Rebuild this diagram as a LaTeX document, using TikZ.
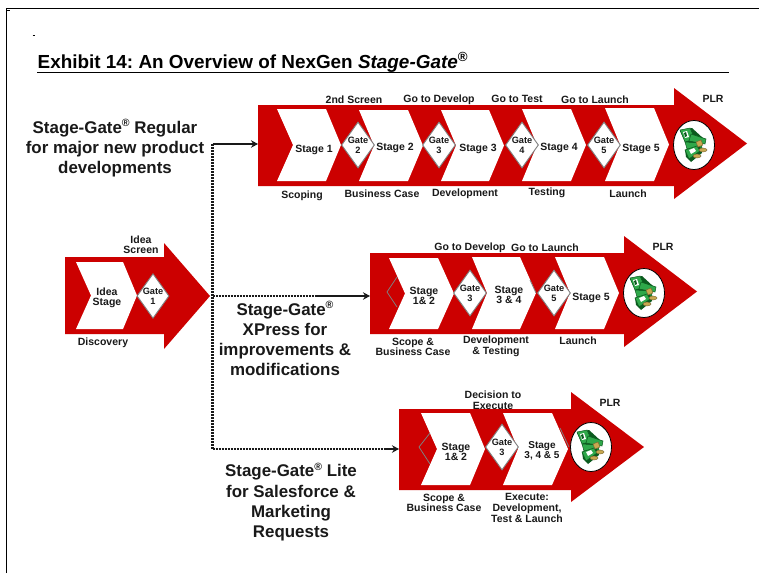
\documentclass[tikz,border=0pt]{standalone}
\usepackage{fontspec}
\setmainfont{Liberation Sans}
\usetikzlibrary{arrows.meta,shapes.geometric}
\definecolor{sgred}{HTML}{CC0000}
\definecolor{sggray}{HTML}{7F7F7F}
\definecolor{billg}{HTML}{2FA84A}
\definecolor{billd}{HTML}{0B5A1E}
\definecolor{coin}{HTML}{C8A850}
\newcommand{\bigarr}[7]{\fill[sgred] (#1,#4) -- (#2,#4) -- (#2,#6) -- (#3,{(#6+#7)/2}) -- (#2,#7) -- (#2,#5) -- (#1,#5) -- cycle;}
\newcommand{\chev}[6]{\fill[white] (#1,#5) -- (#3,#5) -- (#4,{(#5+#6)/2}) -- (#3,#6) -- (#1,#6) -- (#2,{(#5+#6)/2}) -- cycle;}
\newcommand{\moneybag}[3]{%
 \node[plrcircle] (#1) at (#2,#3) {};
 \begin{scope}[shift={(#2,#3)}]
  \fill[billd] (-14,-14) -- (-2,-17) -- (10,-6) -- (6,3) -- (-6,2) -- cycle;
  \fill[billg,draw=billd,line width=.5pt] (-14,-15) -- (-4,-17) -- (1,-6) -- (-9,-3) -- cycle;
  \fill[white] (-11,-13) -- (-7,-14) -- (-5,-8) -- (-9,-7) -- cycle;
  \fill[billd] (-10,-12) -- (-8,-13) -- (-7,-9) -- (-9,-8) -- cycle;
  \fill[billg,draw=billd,line width=.5pt] (-3,-11) -- (12,-6) -- (11,-1) -- (-5,-4) -- cycle;
  \fill[billg,draw=billd,line width=.5pt] (-9,-3) -- (7,-2) -- (8,3) -- (-7,4) -- cycle;
  \fill[billd] (-9,5) -- (6,1) -- (8,8) -- (-3,17) -- (-8,12) -- cycle;
  \fill[billg,draw=billd,line width=.5pt] (-9,5) -- (3,1) -- (6,6) -- (-5,14) -- cycle;
  \fill[white] (-5,5) -- (0,3) -- (2,6) -- (-3,9) -- cycle;
  \fill[coin,draw=coin!60!black,line width=.4pt] (2,-3) -- (7,-5) -- (9,0) -- (4,2) -- cycle;
  \fill[coin,draw=coin!60!black,line width=.4pt] (9,5) ellipse (4 and 2);
  \fill[coin,draw=coin!60!black,line width=.4pt] (3,11) ellipse (4 and 2);
 \end{scope}}
\newcommand{\regmark}{\smash{\raisebox{.36em}{\fontsize{10.5}{10.5}\selectfont\bfseries ®}}}
\tikzset{
 lbl/.style={font=\fontsize{10.5}{10.8}\selectfont\bfseries,align=center,inner sep=0pt,text=black!90,yshift=-.8pt},
 gatelbl/.style={font=\fontsize{9.2}{9.8}\selectfont\bfseries,align=center,inner sep=0pt,text=black!90},
 head/.style={font=\fontsize{16.9}{20.3}\selectfont\bfseries,align=center,inner sep=0pt,text=black!90},
 gatebox/.style={diamond,draw=sggray,line width=.9pt,fill=white,inner sep=0pt,minimum width=33pt,minimum height=46pt,aspect=0.72},
 plrcircle/.style={ellipse,draw=black,line width=.8pt,fill=white,minimum width=41pt,minimum height=49pt,inner sep=0pt},
 ghost/.style={draw=sggray,line width=.8pt},
 dotline/.style={line width=2.1pt,dash pattern=on 2pt off 1pt,black!90},
 solidline/.style={line width=2.4pt,black!90,-{Stealth[length=7pt,width=7.5pt]}},
}
\begin{document}
\frenchspacing
\begin{tikzpicture}[x=1pt,y=-1pt]
\useasboundingbox (0,0) rectangle (759,573);
\fill[white] (0,0) rectangle (759,573);
% frame
\draw[line width=1pt,black] (6.5,573) -- (6.5,8.5) -- (759,8.5);
\draw[line width=.8pt] (7,10.5) -- (9.5,10.5);
\draw[line width=.8pt] (32.5,35) -- (35,35);
% title
\node[anchor=base west,inner sep=0pt,font=\fontsize{18.9}{20}\selectfont\bfseries] (title) at (37.5,68) {Exhibit 14: An Overview of NexGen \textit{Stage-Gate}\textsuperscript{®}};
\draw[line width=1.8pt] (37,72.5) -- (729,72.5);
% arrows
\bigarr{258}{674}{747}{105}{186}{88}{199}
\bigarr{65}{164}{210}{257}{334}{243}{349}
\bigarr{370}{624}{697}{253}{334}{236}{347}
\bigarr{399}{571}{644}{409}{490}{392}{502}
% regular
\chev{277}{293}{326}{341}{109}{181}
\chev{359}{374}{408}{423}{110}{181}
\chev{441}{456}{489}{504}{110}{181}
\chev{522}{537}{571}{586}{109}{181}
\chev{605}{620}{654}{669}{108}{181}
\node[gatebox,gatelbl] (g2) at (358,145) {Gate\\2};
\node[gatebox,gatelbl] (g3) at (439,145) {Gate\\3};
\node[gatebox,gatelbl] (g4) at (522,145) {Gate\\4};
\node[gatebox,gatelbl] (g5) at (604,145) {Gate\\5};
\moneybag{plr1}{694}{145}
\node[lbl] (s1) at (314,149) {Stage 1};
\node[lbl] (s2) at (395,147) {Stage 2};
\node[lbl] (s3) at (478,148) {Stage 3};
\node[lbl] (s4) at (559,147) {Stage 4};
\node[lbl] (s5) at (641,148) {Stage 5};
\node[lbl] (t1) at (354,99) {2nd Screen};
\node[lbl] (t2) at (439,99) {Go to Develop};
\node[lbl] (t3) at (517,98) {Go to Test};
\node[lbl] (t4) at (595,99) {Go to Launch};
\node[lbl] (t5) at (713,98) {PLR};
\node[lbl] (b1) at (302,195) {Scoping};
\node[lbl] (b2) at (382,193) {Business Case};
\node[lbl] (b3) at (465,193) {Development};
\node[lbl] (b4) at (547,192) {Testing};
\node[lbl] (b5) at (628,193) {Launch};
% discovery
\chev{76}{91}{123}{137}{262}{329}
\node[gatebox,gatelbl,minimum width=32pt,minimum height=44pt] (g1) at (153,296) {Gate\\1};
\node[lbl] (d1) at (107,297) {Idea\\Stage};
\node[lbl] (d2) at (141,244) {Idea\\Screen};
\node[lbl] (d3) at (103,342) {Discovery};
% xpress
\chev{389}{405}{438}{454}{258}{329}
\chev{472}{487}{520}{536}{257}{329}
\chev{555}{570}{604}{619}{257}{329}
\draw[ghost] (397,277) -- (387,292) -- (397,307);
\draw[ghost] (530,280) -- (536,293);
\node[gatebox,gatelbl] (x3) at (470,293) {Gate\\3};
\node[gatebox,gatelbl] (x5) at (554,293) {Gate\\5};
\moneybag{plr2}{644}{293}
\node[lbl] (xs1) at (424,295) {Stage\\1\& 2};
\node[lbl] (xs2) at (509,294) {Stage\\3 \& 4};
\node[lbl] (xs3) at (591,297) {Stage 5};
\node[lbl] (xt1) at (470,247) {Go to Develop};
\node[lbl] (xt2) at (545,247) {Go to Launch};
\node[lbl] (xt3) at (663,246) {PLR};
\node[lbl] (xb1) at (413,346) {Scope \&\\Business Case};
\node[lbl] (xb2) at (496,345.5) {Development\\\& Testing};
\node[lbl] (xb3) at (578,340) {Launch};
% lite
\chev{421}{437}{470}{485}{413}{485}
\chev{503}{518}{552}{568}{413}{485}
\draw[ghost] (430,433) -- (419,447) -- (430,464);
\draw[ghost] (560,428) -- (569,447);
\node[gatebox,gatelbl] (l3) at (502,447) {Gate\\3};
\moneybag{plr3}{591}{447}
\node[lbl] (ls1) at (456,451) {Stage\\1\& 2};
\node[lbl,font=\fontsize{10}{10}\selectfont\bfseries] (ls2) at (542,450) {Stage\\3, 4 \& 5};
\node[lbl] (lt1) at (493,399.5) {Decision to\\Execute};
\node[lbl] (lt2) at (610,402) {PLR};
\node[lbl] (lb1) at (444,502) {Scope \&\\Business Case};
\node[lbl] (lb2) at (527,507) {Execute:\\Development,\\Test \& Launch};
% headings
\node[head] (h1) at (115,149) {Stage-Gate\regmark{} Regular\\for major new product\\developments};
\node[head] (h2) at (285,339.7) {Stage-Gate\regmark\\XPress for\\improvements \&\\modifications};
\node[head] (h3) at (291,503) {Stage-Gate\regmark{} Lite\\for Salesforce \&\\Marketing\\Requests};
% connectors
\coordinate (vt) at (212.5,144);
\coordinate (hub) at (212.5,296);
\coordinate (vb) at (212.5,449);
\coordinate (in1) at (258,144);
\coordinate (in2) at (370,296);
\coordinate (in3) at (399,449);
\coordinate (st2) at (315,296);
\coordinate (st3) at (385,449);
\draw[dotline] (vt) -- (vb);
\draw[dotline] (hub) -- (st2);
\draw[dotline] (vb) -- (st3);
\draw[solidline] (vt) -- (in1);
\draw[solidline] (st2) -- (in2);
\draw[solidline] (st3) -- (in3);
\end{tikzpicture}
\end{document}
